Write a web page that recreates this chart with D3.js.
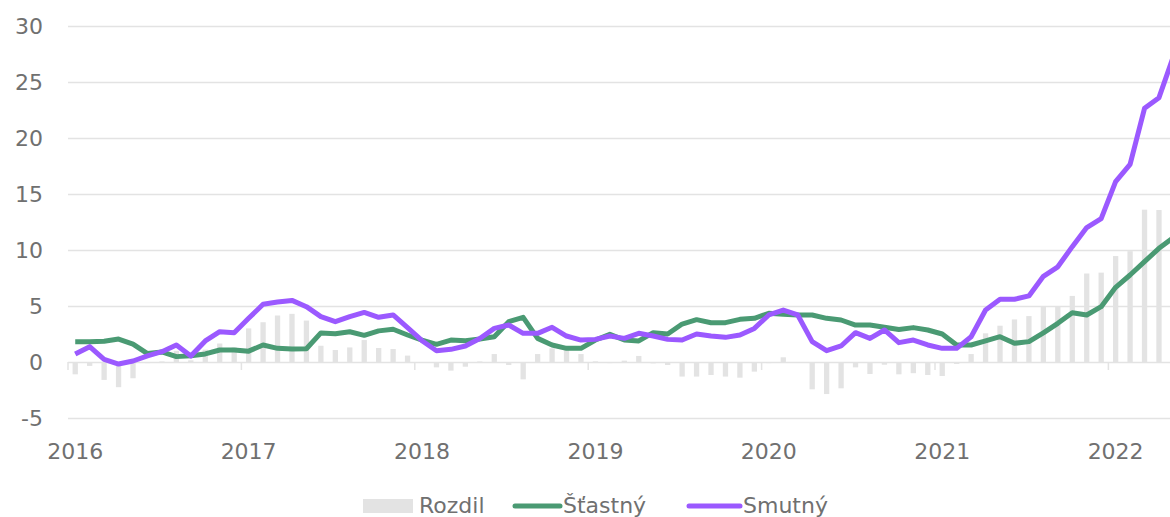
<!doctype html>
<html lang="en">
<head>
  <script src="https://d3js.org/d3.v7.min.js"></script>
<style>
    body { margin:0; background:#fff; }
    .grid line { stroke:#e3e3e3; stroke-width:1.5; }
    .tick-label { font-family:"DejaVu Sans"; font-size:22px; fill:#707070; }
    .bar { fill:#e3e3e3; }
    .legend text { font-family:"DejaVu Sans"; font-size:22px; fill:#707070; }
</style>
</head>
<body>
<div id="chart"></div>
<script>
    // monthly data 2016-01 .. 2022-05
    let months = [
      "2016-01","2016-02","2016-03","2016-04","2016-05","2016-06","2016-07","2016-08","2016-09","2016-10","2016-11","2016-12",
      "2017-01","2017-02","2017-03","2017-04","2017-05","2017-06","2017-07","2017-08","2017-09","2017-10","2017-11","2017-12",
      "2018-01","2018-02","2018-03","2018-04","2018-05","2018-06","2018-07","2018-08","2018-09","2018-10","2018-11","2018-12",
      "2019-01","2019-02","2019-03","2019-04","2019-05","2019-06","2019-07","2019-08","2019-09","2019-10","2019-11","2019-12",
      "2020-01","2020-02","2020-03","2020-04","2020-05","2020-06","2020-07","2020-08","2020-09","2020-10","2020-11","2020-12",
      "2021-01","2021-02","2021-03","2021-04","2021-05","2021-06","2021-07","2021-08","2021-09","2021-10","2021-11","2021-12",
      "2022-01","2022-02","2022-03","2022-04","2022-05"
    ];
    let years = ["2016","2017","2018","2019","2020","2021","2022"];
    let yTicks = [-5, 0, 5, 10, 15, 20, 25, 30];

    let stastny = [
      1.8, 1.8, 1.85, 2.05, 1.6, 0.75, 0.9, 0.48, 0.55, 0.72, 1.07, 1.08,
      0.97, 1.52, 1.22, 1.16, 1.18, 2.6, 2.52, 2.7, 2.38, 2.78, 2.92, 2.41,
      1.96, 1.58, 1.96, 1.9, 2.05, 2.26, 3.6, 3.99, 2.11, 1.52, 1.22, 1.22,
      1.96, 2.47, 1.96, 1.88, 2.62, 2.5, 3.39, 3.78, 3.51, 3.51, 3.81, 3.9,
      4.35, 4.26, 4.2, 4.2, 3.9, 3.75, 3.3, 3.3, 3.1, 2.9, 3.07, 2.86,
      2.5, 1.52, 1.52, 1.88, 2.26, 1.67, 1.82, 2.6, 3.45, 4.4, 4.2, 4.94,
      6.67, 7.77, 8.96, 10.15, 11.1
    ];
    let smutny = [
      0.71, 1.37, 0.24, -0.18, 0.09, 0.54, 0.92, 1.52, 0.54, 1.88, 2.71, 2.62,
      3.9, 5.15, 5.35, 5.5, 4.94, 4.05, 3.6, 4.05, 4.43, 3.99, 4.2, 3.07,
      1.9, 1.01, 1.13, 1.43, 2.1, 3.0, 3.3, 2.56, 2.56, 3.1, 2.32, 1.96,
      2.02, 2.32, 2.11, 2.56, 2.32, 2.02, 1.96, 2.5, 2.32, 2.2, 2.41, 3.0,
      4.2, 4.64, 4.2, 1.82, 1.01, 1.43, 2.62, 2.11, 2.86, 1.73, 1.96, 1.52,
      1.22, 1.22, 2.26, 4.64, 5.6, 5.6, 5.9, 7.65, 8.5, 10.3, 12.0, 12.8,
      16.1, 17.65, 22.65, 23.6, 27.3
    ];
    let rozdil = [
      -1.1, -0.35, -1.6, -2.25, -1.45, -0.1, 0.05, 1.0, 0.15, 1.1, 1.65, 1.3,
      3.0, 3.55, 4.15, 4.3, 3.7, 1.45, 1.07, 1.3, 1.96, 1.25, 1.16, 0.57,
      -0.05, -0.48, -0.77, -0.42, 0.05, 0.71, -0.27, -1.55, 0.71, 1.22, 1.07, 0.71,
      0.06, -0.1, 0.12, 0.54, -0.12, -0.27, -1.3, -1.3, -1.16, -1.3, -1.4, -0.86,
      -0.1, 0.42, 0.0, -2.44, -2.86, -2.35, -0.48, -1.07, -0.24, -1.1, -1.0, -1.16,
      -1.25, -0.18, 0.71, 2.56, 3.24, 3.8, 4.1, 4.94, 4.94, 5.9, 7.9, 7.98,
      9.46, 9.9, 13.6, 13.57, 16.2
    ];

    let width = 1170, height = 517;
    let plotLeft = 68, plotTop = 26, plotBottom = 418;
    let step = 14.45;

    let svg = d3.select("#chart").append("svg")
        .attr("width", width)
        .attr("height", height);

    let xScale = d3.scaleBand().domain(months).range([plotLeft, plotLeft + months.length * step]);
    let bw = xScale.bandwidth();
    let yScale = d3.scaleLinear().domain([-5, 30]).range([plotBottom, plotTop]);

    // gridlines + y labels
    let yAxis = svg.append("g")
        .attr("class", "grid")
        .attr("transform", "translate(" + plotLeft + ",0)")
        .call(d3.axisLeft(yScale).tickValues(yTicks).tickSize(-(width - plotLeft)).tickPadding(25).tickFormat(d => String(d)));
    yAxis.select(".domain").remove();
    yAxis.selectAll("text").attr("class", "tick-label").attr("fill", null);
    yAxis.attr("font-size", null).attr("font-family", null);

    // year ticks
    svg.append("g").selectAll("line").data(years).join("line")
        .attr("x1", d => xScale(d + "-01"))
        .attr("x2", d => xScale(d + "-01"))
        .attr("y1", yScale(0))
        .attr("y2", yScale(0) + 8)
        .attr("stroke", "#e3e3e3")
        .attr("stroke-width", 1.5);

    svg.append("g").selectAll("text").data(years).join("text")
        .attr("class", "tick-label")
        .attr("x", d => xScale(d + "-01") + bw / 2)
        .attr("y", 459)
        .attr("text-anchor", "middle")
        .text(d => d);

    // bars
    let barW = 5.3;
    svg.append("g").selectAll("rect").data(rozdil).join("rect")
        .attr("class", "bar")
        .attr("x", (d, i) => xScale(months[i]) + bw / 2 - barW / 2)
        .attr("width", barW)
        .attr("y", d => yScale(Math.max(0, d)))
        .attr("height", d => Math.abs(yScale(d) - yScale(0)));

    let line = d3.line()
        .x((d, i) => xScale(months[i]) + bw / 2)
        .y(d => yScale(d));

    svg.append("path").datum(stastny)
        .attr("d", line)
        .attr("fill", "none")
        .attr("stroke", "#4a9a73")
        .attr("stroke-width", 5)
        .attr("stroke-linejoin", "round");

    svg.append("path").datum(smutny)
        .attr("d", line)
        .attr("fill", "none")
        .attr("stroke", "#9b59ff")
        .attr("stroke-width", 5)
        .attr("stroke-linejoin", "round");

    // legend
    let legend = svg.append("g").attr("class", "legend");
    legend.append("rect").attr("x", 363).attr("y", 499).attr("width", 50).attr("height", 14).attr("fill", "#e3e3e3");
    legend.append("text").attr("x", 419).attr("y", 513).text("Rozdil");
    legend.append("line").attr("x1", 515).attr("x2", 560).attr("y1", 506).attr("y2", 506)
        .attr("stroke", "#4a9a73").attr("stroke-width", 5).attr("stroke-linecap", "round");
    legend.append("text").attr("x", 563).attr("y", 513).text("Šťastný");
    legend.append("line").attr("x1", 689).attr("x2", 740).attr("y1", 506).attr("y2", 506)
        .attr("stroke", "#9b59ff").attr("stroke-width", 5).attr("stroke-linecap", "round");
    legend.append("text").attr("x", 743).attr("y", 513).text("Smutný");
</script>
</body>
</html>
